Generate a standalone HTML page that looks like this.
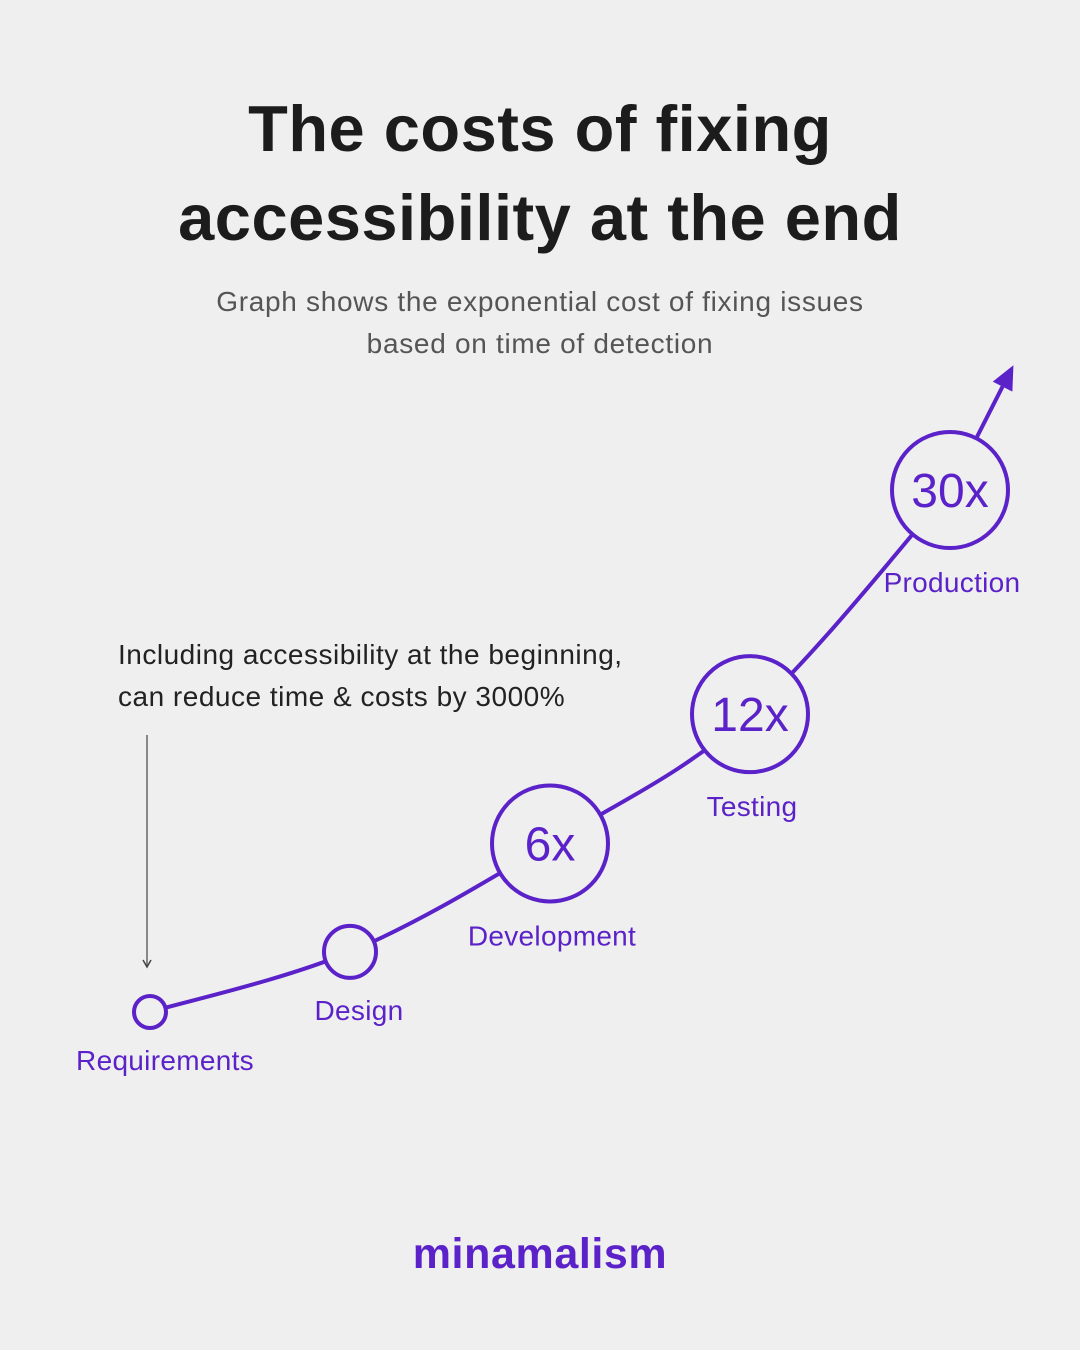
<!DOCTYPE html>
<html><head><meta charset="utf-8"><style>
html,body{margin:0;padding:0;background:#efefef;}
body{width:1080px;height:1350px;position:relative;overflow:hidden;font-family:"Liberation Sans",sans-serif;}
.t{position:absolute;left:0;width:1080px;text-align:center;}
</style></head><body>
<div class="t" style="top:84px;font-size:65px;font-weight:bold;color:#1c1c1c;line-height:89px;letter-spacing:0.5px;">The costs of fixing<br>accessibility at the end</div>
<div class="t" style="top:281px;font-size:28px;color:#555;line-height:42px;letter-spacing:0.7px;">Graph shows the exponential cost of fixing issues<br>based on time of detection</div>
<div style="position:absolute;left:118px;top:634px;font-size:28px;color:#222;line-height:42px;letter-spacing:0.5px;">Including accessibility at the beginning,<br>can reduce time &amp; costs by 3000%</div>
<svg id="chart" width="1080" height="1350" style="position:absolute;left:0;top:0;">
<line x1="147" y1="735" x2="147" y2="966" stroke="#666" stroke-width="1.5"/>
<path d="M143,960 L147,967 L151,960" fill="none" stroke="#444" stroke-width="1.5"/>
</svg>
<div class="t" style="top:1230px;font-size:43px;color:#5a22c8;font-weight:bold;letter-spacing:0.6px;">minamalism</div>
<script>
const stages=["Requirements","Design","Development","Testing","Production"];
const costs=[1,2.5,6,12,30];
const costLabels=["","","6x","12x","30x"];
const NS="http://www.w3.org/2000/svg";
const svg=document.getElementById("chart");
const P="#5a22c8";
const xS=i=>150+i*200;
const yS=v=>1012-522*(Math.log(v+6.5)-Math.log(7.5))/(Math.log(36.5)-Math.log(7.5));
const rS=v=>v>=6?58:(v>=2.5?26:16);
const pts=costs.map((v,i)=>[xS(i),yS(v)]);
let d="M"+pts[0][0]+","+pts[0][1];
for(let i=0;i<pts.length-1;i++){
 const p0=pts[Math.max(0,i-1)],p1=pts[i],p2=pts[i+1],p3=pts[Math.min(pts.length-1,i+2)];
 const c1=[p1[0]+(p2[0]-p0[0])/6,p1[1]+(p2[1]-p0[1])/6];
 const c2=[p2[0]-(p3[0]-p1[0])/6,p2[1]-(p3[1]-p1[1])/6];
 d+=` C${c1[0]},${c1[1]} ${c2[0]},${c2[1]} ${p2[0]},${p2[1]}`;
}
const path=document.createElementNS(NS,"path");


path.setAttribute("d",d);path.setAttribute("fill","none");path.setAttribute("stroke",P);path.setAttribute("stroke-width","4");
svg.appendChild(path);
const last=pts[pts.length-1];
const dx=62,dy=-122,L=Math.hypot(dx,dy),ux=dx/L,uy=dy/L;
const tip=[last[0]+ux*140,last[1]+uy*140];
const base=[tip[0]-ux*24,tip[1]-uy*24];
const ln=document.createElementNS(NS,"line");


ln.setAttribute("x1",last[0]);ln.setAttribute("y1",last[1]);ln.setAttribute("x2",base[0]);ln.setAttribute("y2",base[1]);
ln.setAttribute("stroke",P);ln.setAttribute("stroke-width","4");svg.appendChild(ln);
const hd=document.createElementNS(NS,"polygon");


hd.setAttribute("points",`${tip[0]},${tip[1]} ${base[0]-uy*11},${base[1]+ux*11} ${base[0]+uy*11},${base[1]-ux*11}`);
hd.setAttribute("fill",P);svg.appendChild(hd);
costs.forEach((v,i)=>{
 const [x,y]=pts[i],r=rS(v);
 const c=document.createElementNS(NS,"circle");
 
 
 c.setAttribute("cx",x);c.setAttribute("cy",y);c.setAttribute("r",r);
 c.setAttribute("fill","#efefef");c.setAttribute("stroke",P);c.setAttribute("stroke-width","4");
 svg.appendChild(c);
 if(costLabels[i]){
  const t=document.createElementNS(NS,"text");
  
  
  t.setAttribute("x",x);t.setAttribute("y",y+17);t.setAttribute("text-anchor","middle");
  t.setAttribute("font-size","48");t.setAttribute("fill",P);t.setAttribute("font-family","Liberation Sans, sans-serif");
  t.textContent=costLabels[i];svg.appendChild(t);
 }
 const l=document.createElementNS(NS,"text");
 
 
 l.setAttribute("x",x+(i==0?15:(i==1?9:2)));l.setAttribute("y",y+r+(i>=2?44:42));l.setAttribute("text-anchor","middle");
 l.setAttribute("font-size","28");l.setAttribute("letter-spacing","0.3");l.setAttribute("fill",P);l.setAttribute("font-family","Liberation Sans, sans-serif");
 l.textContent=stages[i];svg.appendChild(l);
});
</script>
</body></html>
